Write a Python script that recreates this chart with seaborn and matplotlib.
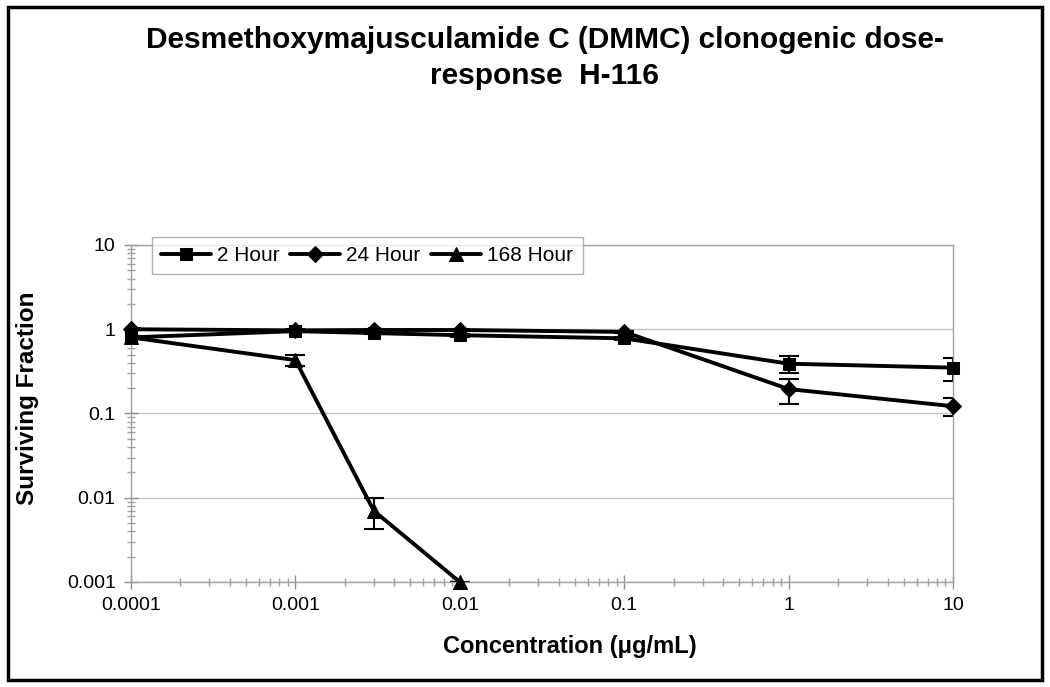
import numpy as np
import pandas as pd
import seaborn as sns
import matplotlib.pyplot as plt
from matplotlib.patches import Rectangle
from matplotlib.ticker import LogLocator, NullFormatter, FixedLocator, FixedFormatter

conc = [0.0001, 0.001, 0.003, 0.01, 0.1, 1, 10]
sf_2h = [0.80, 0.95, 0.90, 0.85, 0.78, 0.39, 0.35]
err_2h = [0.03, 0.03, 0.03, 0.03, 0.03, 0.085, 0.105]
sf_24h = [1.00, 0.97, 0.98, 0.98, 0.93, 0.195, 0.122]
err_24h = [0.03, 0.03, 0.03, 0.03, 0.03, 0.065, 0.029]
conc_168 = [0.0001, 0.001, 0.003, 0.01]
sf_168h = [0.80, 0.43, 0.0070, 0.0010]
err_168h = [0.03, 0.06, 0.0028, 0.0]

series = ['2 Hour', '24 Hour', '168 Hour']
markers = {'2 Hour': 's', '24 Hour': 'D', '168 Hour': '^'}
msizes = {'2 Hour': 9, '24 Hour': 8, '168 Hour': 10}

df = pd.concat([
    pd.DataFrame({'conc': conc, 'sf': sf_2h, 'err': err_2h, 'series': '2 Hour'}),
    pd.DataFrame({'conc': conc, 'sf': sf_24h, 'err': err_24h, 'series': '24 Hour'}),
    pd.DataFrame({'conc': conc_168, 'sf': sf_168h, 'err': err_168h, 'series': '168 Hour'}),
])

sns.set_style('white')
plt.rcParams['font.family'] = ['Liberation Sans', 'DejaVu Sans']
plt.rcParams['text.color'] = 'black'
plt.rcParams['axes.labelcolor'] = 'black'
plt.rcParams['xtick.color'] = 'black'
plt.rcParams['ytick.color'] = 'black'

fig = plt.figure(figsize=(10.5, 6.87), dpi=100)
ax = fig.add_axes([131 / 1050, 1 - 582 / 687, (953 - 131) / 1050, (582 - 245) / 687])

for s in series:
    d = df[df.series == s]
    ax.errorbar(d.conc, d.sf, yerr=d.err, fmt='none', ecolor='black',
                elinewidth=1.5, capsize=7, capthick=1.5, zorder=2)
    sns.lineplot(data=d, x='conc', y='sf', ax=ax, color='black', lw=2.8,
                 marker=markers[s], markersize=msizes[s], markeredgecolor='black',
                 label=s, zorder=3, clip_on=False)

ax.set_xscale('log')
ax.set_yscale('log')
ax.set_xlim(0.0001, 10)
ax.set_ylim(0.001, 10)

xt = [0.0001, 0.001, 0.01, 0.1, 1, 10]
yt = [0.001, 0.01, 0.1, 1, 10]
ax.xaxis.set_major_locator(FixedLocator(xt))
ax.xaxis.set_major_formatter(FixedFormatter(['0.0001', '0.001', '0.01', '0.1', '1', '10']))
ax.yaxis.set_major_locator(FixedLocator(yt))
ax.yaxis.set_major_formatter(FixedFormatter(['0.001', '0.01', '0.1', '1', '10']))
ax.xaxis.set_minor_locator(LogLocator(base=10, subs=np.arange(2, 10)))
ax.yaxis.set_minor_locator(LogLocator(base=10, subs=np.arange(2, 10)))
ax.xaxis.set_minor_formatter(NullFormatter())
ax.yaxis.set_minor_formatter(NullFormatter())

ax.grid(axis='y', which='major', color='#c0c0c0', lw=1)
for sp in ax.spines.values():
    sp.set_color('#a0a0a0')
    sp.set_linewidth(1)
ax.tick_params(which='major', direction='inout', length=10, width=1, color='#909090',
               labelsize=14, labelcolor='black', pad=6)
ax.tick_params(which='minor', direction='inout', length=6, width=1, color='#a0a0a0')
ax.tick_params(axis='x', which='both', bottom=True)
ax.tick_params(axis='y', which='both', left=True)

ax.set_xlabel('Concentration (\u03bcg/mL)', fontsize=17, fontweight='bold')
ax.set_ylabel('Surviving Fraction', fontsize=17.5, fontweight='bold')
ax.xaxis.set_label_coords(0.534, -0.157)
ax.yaxis.set_label_coords(-0.112, 0.546)

fig.text(0.519, 1 - 40 / 687, 'Desmethoxymajusculamide C (DMMC) clonogenic dose-',
         ha='center', va='center', fontsize=21.5, fontweight='bold')
fig.text(0.519, 1 - 76 / 687, 'response  H-116',
         ha='center', va='center', fontsize=21.5, fontweight='bold')

leg = ax.legend(loc='upper left', bbox_to_anchor=(0.025, 1.025), ncol=3, frameon=True,
                fancybox=False, fontsize=15, handlelength=2.4, columnspacing=0.5,
                handletextpad=0.3, borderpad=0.45, borderaxespad=0)
leg.get_frame().set_edgecolor('#a0a0a0')
leg.get_frame().set_linewidth(1)

fig.patches.append(Rectangle((8 / 1050, 7 / 687), 1034 / 1050, 673 / 687,
                             transform=fig.transFigure, fill=False,
                             edgecolor='black', lw=2.5))

fig.savefig('out.png', dpi=100)
